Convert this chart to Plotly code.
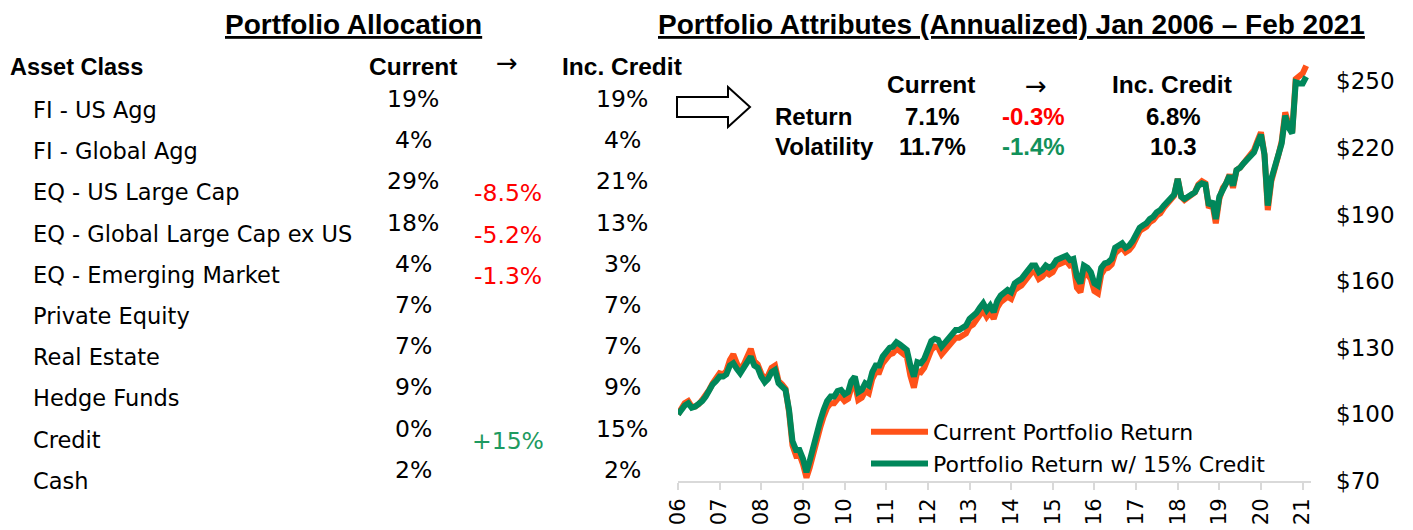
import plotly.graph_objects as go
import pandas as pd

# ---------------- data ----------------
asset_classes = ["FI - US Agg", "FI - Global Agg", "EQ - US Large Cap", "EQ - Global Large Cap ex US",
                 "EQ - Emerging Market", "Private Equity", "Real Estate", "Hedge Funds", "Credit", "Cash"]
current_alloc = ["19%", "4%", "29%", "18%", "4%", "7%", "7%", "9%", "0%", "2%"]
change_alloc = ["", "", "-8.5%", "-5.2%", "-1.3%", "", "", "", "+15%", ""]
credit_alloc = ["19%", "4%", "21%", "13%", "3%", "7%", "7%", "9%", "15%", "2%"]

stat_rows = ["Return", "Volatility"]
stat_current = ["7.1%", "11.7%"]
stat_change = ["-0.3%", "-1.4%"]
stat_credit = ["6.8%", "10.3"]

dates = pd.date_range("2006-01-01", "2021-02-01", freq="MS")

current_return = [
    100, 102.5, 105, 106, 103.5, 103.5, 104.5, 106.5, 108.5, 111, 114, 116,
    118.5, 118, 119.5, 124.5, 127, 123, 120, 122.5, 126, 129.5, 124, 122.5,
    118.5, 115.5, 117.5, 121, 122, 115, 113.5, 111.5, 101, 86, 81.5, 82,
    77.5, 71.5, 76, 83, 89.5, 94, 99, 103, 105, 105, 107, 108,
    106, 107, 112, 114, 106.5, 107.5, 110.5, 109.5, 116, 119, 119, 123,
    125, 127, 127.5, 129.5, 128.5, 127, 126, 117.5, 112, 119.5, 119, 121,
    126, 129, 130.5, 130, 127, 129, 131.5, 132.5, 134.5, 134.5, 135.5, 136.5,
    139.5, 140.5, 142.5, 145, 147, 144, 146, 143, 148, 150.5, 152, 153,
    152, 156, 157, 158, 160, 162, 164, 164, 161, 162, 164, 163,
    164, 167, 167.5, 168.5, 169, 167, 167.5, 157, 155, 164, 163, 161,
    155.5, 154.5, 163, 165.5, 166, 167.5, 172.5, 174, 175, 173, 174, 176,
    179.5, 182.5, 183.5, 184.5, 186.5, 187.5, 189.5, 190.5, 193, 195, 197, 198.5,
    206, 198, 196.5, 197.5, 199, 200, 203.5, 205, 204, 193, 195, 186,
    197, 202, 204, 208, 202, 210, 211, 213, 214.5, 216.5, 219, 223,
    227, 217, 192, 205, 212, 216.5, 223, 236, 230, 227, 251, 252,
    253.5, 257,
]
credit_return = [
    100, 102.5, 104, 105, 103, 103.5, 104.5, 106, 108, 111, 113.5, 115,
    117, 117, 118, 122, 123, 120.5, 118.5, 121, 124, 126, 122, 121,
    117, 114.5, 116, 119, 120, 114, 112.5, 111, 102, 88, 84, 84,
    80, 74, 79, 86, 92, 97, 102, 106, 108, 108, 110.5, 111,
    109, 110, 115, 117, 110, 111, 114, 113, 119, 122, 122, 126,
    128, 130, 130.5, 132.5, 131.5, 130, 129, 122, 117, 123.5, 123, 125,
    130, 133, 134, 133.5, 130.5, 132.5, 135, 136, 138, 138, 139, 140,
    143, 144, 145.6, 148, 150, 147, 149, 146, 151, 153.5, 155, 156,
    155, 159, 160, 161, 163, 165, 167, 167, 164, 165, 167, 166,
    167, 169.5, 170, 171, 171.5, 169.5, 170, 162, 159, 167, 166, 164,
    159, 158, 166, 168, 168.5, 170, 175, 176, 177, 175, 176, 178,
    181, 184, 185, 186, 188, 189, 191, 192, 194, 196, 198, 199,
    206, 198, 197, 198, 199, 200, 203, 204, 203.5, 194, 196, 188,
    198, 202, 204, 207.5, 203, 210, 211, 213, 214.5, 216, 218, 222,
    226, 217, 194, 206, 212, 216, 222, 234.5, 229, 226.5, 249.5, 249,
    249, 252,
]
y_ticks = [70, 100, 130, 160, 190, 220, 250]
y_tick_labels = ["$70", "$100", "$130", "$160", "$190", "$220", "$250"]

# ---------------- layout helpers ----------------
W, H = 1413, 530
PL, PR, PT, PB = 678, 1311, 59, 481
REG = "DejaVu Sans"
BOLD = "Liberation Sans"
ORANGE = "#FF5219"
GREEN = "#00875A"
RED = "#FF0000"
GREEN_TXT = "#1E9A60"


def px(x):
    return (x - PL) / (PR - PL)


def py(y):
    return (PB - y) / (PB - PT)


annotations = []


def text(x, y, s, size, color="#000000", family=REG, anchor="center", **font_extra):
    annotations.append(dict(
        x=px(x), y=py(y), xref="paper", yref="paper", text=s, showarrow=False,
        xanchor=anchor, yanchor="middle",
        font=dict(family=family, size=size, color=color, **font_extra),
    ))


# titles
text(353, 24, "<b>Portfolio Allocation</b>", 28, family=BOLD, lineposition="under")
text(1011, 24, "<b>Portfolio Attributes (Annualized) Jan 2006 \u2013 Feb 2021</b>", 28,
     family=BOLD, lineposition="under")

# allocation table headers
text(8, 67, "<b>Asset Class</b>", 23.5, family=BOLD, anchor="left")
text(413, 67, "<b>Current</b>", 24.5, family=BOLD)
text(507, 63, "\u2192", 26)
text(622, 67, "<b>Inc. Credit</b>", 24.5, family=BOLD)

row_y0, row_dy = 110, 41.2
for i, name in enumerate(asset_classes):
    yl = row_y0 + i * row_dy
    text(31, yl, name, 22.5, anchor="left")
    text(413, yl - 11, current_alloc[i], 23.5)
    text(622, yl - 11, credit_alloc[i], 23.5)
    if change_alloc[i]:
        col = GREEN_TXT if change_alloc[i].startswith("+") else RED
        text(508, yl + 1, change_alloc[i], 23.5, color=col)

# attribute stats
text(931, 84, "<b>Current</b>", 24.5, family=BOLD)
text(1036, 86, "\u2192", 26)
text(1172, 84, "<b>Inc. Credit</b>", 24.5, family=BOLD)
for i, r in enumerate(stat_rows):
    ys = 116 + i * 30
    text(773, ys, f"<b>{r}</b>", 24, family=BOLD, anchor="left")
    text(932, ys, f"<b>{stat_current[i]}</b>", 24, family=BOLD)
    col = RED if i == 0 else "#12915A"
    text(1033, ys, f"<b>{stat_change[i]}</b>", 24, family=BOLD, color=col)
    text(1173, ys, f"<b>{stat_credit[i]}</b>", 24, family=BOLD)

# hollow arrow
arrow_pts = [(677, 97), (728, 97), (728, 87), (750, 107), (728, 127), (728, 117), (677, 117)]
path = "M " + " L ".join(f"{px(a):.5f},{py(b):.5f}" for a, b in arrow_pts) + " Z"
shapes = [dict(type="path", xref="paper", yref="paper", path=path,
               line=dict(color="#000000", width=2), fillcolor="#FFFFFF")]

# ---------------- figure ----------------
fig = go.Figure()
fig.add_trace(go.Scatter(x=dates, y=current_return, mode="lines", name="Current Portfolio Return",
                         line=dict(color=ORANGE, width=6)))
fig.add_trace(go.Scatter(x=dates, y=credit_return, mode="lines", name="Portfolio Return w/ 15% Credit",
                         line=dict(color=GREEN, width=6)))

fig.update_layout(
    width=W, height=H, autosize=False,
    margin=dict(l=PL, r=W - PR, t=PT, b=H - PB, pad=0, autoexpand=False),
    paper_bgcolor="#FFFFFF", plot_bgcolor="#FFFFFF",
    font=dict(family=REG, color="#000000"),
    showlegend=True,
    legend=dict(x=px(866), y=py(411), xanchor="left", yanchor="top", bgcolor="rgba(0,0,0,0)",
                font=dict(family=REG, size=22, color="#000000"), itemwidth=57,
                tracegroupgap=0, borderwidth=0),
    annotations=annotations,
    shapes=shapes,
    xaxis=dict(type="date", range=["2006-01-01", "2021-03-15"], tick0="2006-01-01", dtick="M12",
               tickformat="%y", tickangle=-90, ticks="outside", ticklen=7, tickwidth=2,
               tickcolor="#D9D9D9", showline=True, linecolor="#D9D9D9", linewidth=2,
               showgrid=False, zeroline=False, tickfont=dict(family=REG, size=21, color="#000000"),
               ticklabelstandoff=0, automargin=False),
    yaxis=dict(range=[70, 260], tickmode="array", tickvals=y_ticks, ticktext=y_tick_labels,
               side="right", showgrid=False, zeroline=False, showline=False, ticks="",
               tickfont=dict(family=REG, size=23, color="#000000"), ticklabelstandoff=24,
               automargin=False),
)

fig.write_html("out.html", config={"displayModeBar": False},
               post_script="document.body.style.margin='0';document.body.style.overflow='hidden';")
